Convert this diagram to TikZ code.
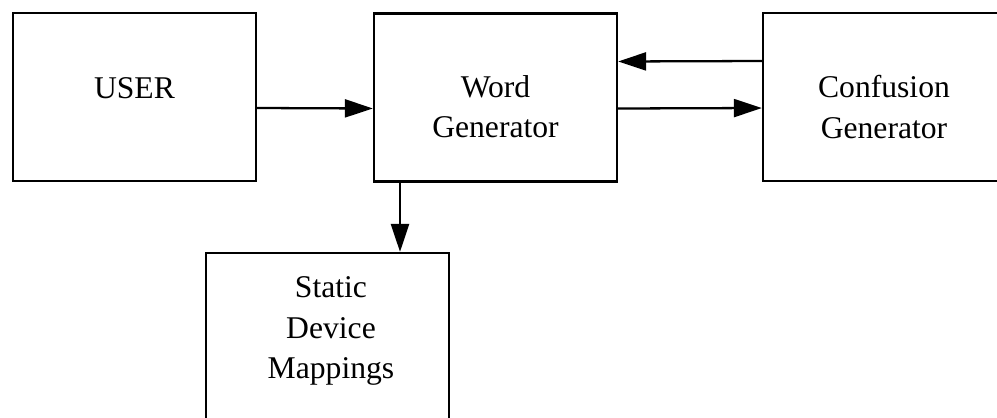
\documentclass[tikz,border=0pt]{standalone}
\usepackage{fontspec}
\setmainfont{Liberation Serif}
\usepackage{tikz}
\usetikzlibrary{arrows.meta}

\begin{document}
\begin{tikzpicture}[x=0.1mm, y=-0.1mm,
	block/.style={draw=black, line width=0.65pt, minimum width=24.3mm, minimum height=16.8mm},
	lbl/.style={align=center, inner sep=0pt, font=\fontsize{9}{11.4}\selectfont},
	flow/.style={line width=0.65pt, -{Triangle[length=2.8mm, width=1.8mm]}}]
	\useasboundingbox (0, 0) rectangle (997, 418);
	\clip (0, 0) rectangle (997, 418);
	% boxes
	\node [block] (user) at (134.5, 97) {};
	\node [block] (wordgen) at (495.5, 97.5) {};
	\node [block] (confgen) at (884.5, 97) {};
	\node [block] (mappings) at (327.5, 337) {};
	% box texts
	\node [lbl] (usertext) at (134.5, 88) {USER};
	\node [lbl] (wordgentext) at (495.5, 107) {Word\\Generator};
	\node [lbl] (confgentext) at (884, 107) {Confusion\\Generator};
	\node [lbl] (mappingstext) at (331, 331) {Static\\Device\\Mappings};
	% connectors
	\draw [flow] ([yshift=-1.1mm]user.east) to ([yshift=-1.1mm]wordgen.west);
	\draw [flow] ([yshift=-1.1mm]wordgen.east) to ([yshift=-1.1mm]confgen.west);
	\draw [flow] ([yshift=3.6mm]confgen.west) to ([yshift=3.6mm]wordgen.east);
	\draw [flow] ([xshift=-9.55mm]wordgen.south) to ([xshift=-9.55mm]wordgen.south |- mappings.north);
\end{tikzpicture}
\end{document}
